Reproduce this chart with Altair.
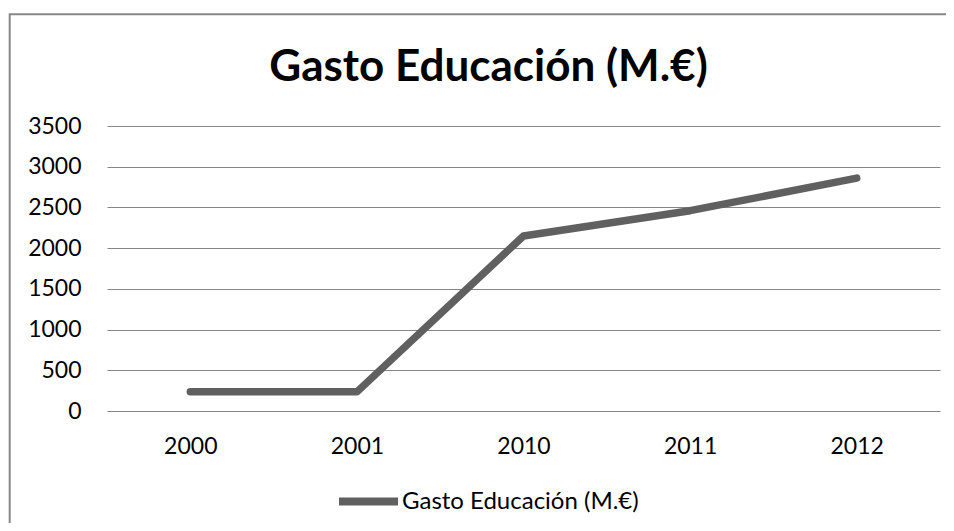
import altair as alt
import pandas as pd

years = ["2000", "2001", "2010", "2011", "2012"]
gasto = [235, 235, 2150, 2460, 2860]
serie = "Gasto Educación (M.€)"
title_text = "Gasto Educación (M.€)"
y_ticks = [0, 500, 1000, 1500, 2000, 2500, 3000, 3500]

df = pd.DataFrame({"year": years, "gasto": gasto, "serie": [serie] * len(years)})

FONT = "Lato"

line = alt.Chart(df).mark_line(strokeWidth=7.5, strokeCap="round", strokeJoin="round").encode(
    x=alt.X("year:N", sort=None, title=None,
            axis=alt.Axis(labelAngle=0, ticks=False, domain=False, grid=False,
                          labelPadding=24, labelFontSize=23, labelFont=FONT,
                          labelColor="#000000")),
    y=alt.Y("gasto:Q", title=None, scale=alt.Scale(domain=[0, 3500], nice=False),
            axis=alt.Axis(values=y_ticks, format="d", ticks=False, domain=False, grid=True,
                          gridColor="#868686", gridWidth=1, labelPadding=26,
                          labelFontSize=23, labelFont=FONT, labelColor="#000000")),
    color=alt.Color("serie:N", scale=alt.Scale(range=["#606060"]),
                    legend=alt.Legend(title=None, orient="none", legendX=228, legendY=342,
                                      symbolType="stroke", symbolSize=3481,
                                      symbolStrokeWidth=8, labelOffset=0, labelLimit=0,
                                      labelFontSize=24, labelFont=FONT,
                                      labelColor="#000000")),
)

border = alt.Chart(pd.DataFrame({"k": [0]})).mark_rect(
    fill="transparent", stroke="#888888", strokeWidth=2
).encode(
    x=alt.value(-97.3), x2=alt.value(2000), y=alt.value(-111.7), y2=alt.value(2000)
)

chart = alt.layer(border, line).properties(
    width=833, height=285,
    autosize=alt.AutoSizeParams(type="none"),
    padding={"left": 99, "top": 118, "right": 6, "bottom": 112},
    title=alt.TitleParams(title_text, fontSize=44, font=FONT, fontWeight="bold",
                          anchor="middle", frame="group", dx=-35, offset=-77,
                          color="#000000"),
).configure_view(stroke=None)

chart.save("out.html", embed_options={"renderer": "svg", "actions": False})
